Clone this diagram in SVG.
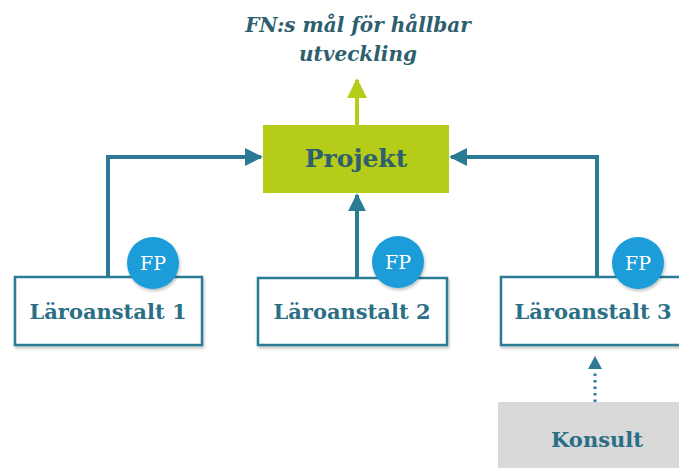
<svg xmlns="http://www.w3.org/2000/svg" width="679" height="468" viewBox="0 0 679 468">
<defs>
<style>
.box{fill:#fff;stroke:#2b7b94;stroke-width:2.5}
.lbl{font-family:"DejaVu Serif","Liberation Serif",serif;font-weight:bold;fill:#2b6f86;text-anchor:middle}
.fp{fill:#1a9cd8}
.fpt{font-family:"DejaVu Serif","Liberation Serif",serif;fill:#fff;font-size:19px;text-anchor:middle}
.conn{fill:none;stroke:#2b7b94;stroke-width:4}
</style>
<marker id="ah" viewBox="0 0 10 10" refX="9" refY="5" markerWidth="4.5" markerHeight="4.5" orient="auto" markerUnits="strokeWidth"><path d="M0,0L10,5L0,10z" fill="#2b7b94"/></marker>
<marker id="ahg" viewBox="0 0 10 10" refX="9" refY="5" markerWidth="5" markerHeight="5" orient="auto" markerUnits="strokeWidth"><path d="M0,0L10,5L0,10z" fill="#b5cc18"/></marker>
<filter id="sh" x="-30%" y="-30%" width="160%" height="160%"><feDropShadow dx="1" dy="2" stdDeviation="1.5" flood-opacity="0.25"/></filter>
</defs>
<g id="title">
<text x="358" y="32" font-family="DejaVu Serif, serif" font-style="italic" font-weight="bold" font-size="20" fill="#2e5f6e" text-anchor="middle">FN:s mål för hållbar</text>
<text x="358" y="61" font-family="DejaVu Serif, serif" font-style="italic" font-weight="bold" font-size="20" fill="#2e5f6e" text-anchor="middle">utveckling</text>
</g>
<g id="connectors">
<path class="conn" d="M108,277V157H261" marker-end="url(#ah)"/>
<path class="conn" d="M357,278V195" marker-end="url(#ah)"/>
<path class="conn" d="M597,277V157H451" marker-end="url(#ah)"/>
<path d="M357,125V80" fill="none" stroke="#b5cc18" stroke-width="4" marker-end="url(#ahg)"/>
<path d="M595,402V372" fill="none" stroke="#2b7b94" stroke-width="3" stroke-dasharray="2.5 4"/>
<path d="M595,356L588,369H602z" fill="#2b7b94"/>
</g>
<g id="projekt">
<rect x="263" y="125" width="186" height="68" fill="#b5cc18"/>
<text x="356" y="167" font-family="DejaVu Serif, serif" font-weight="bold" font-size="25" fill="#2e5f6e" text-anchor="middle">Projekt</text>
</g>
<g id="laroanstalt1">
<rect class="box" x="15" y="277" width="187" height="68" filter="url(#sh)"/>
<text class="lbl" x="108" y="319" font-size="21">Läroanstalt 1</text>
<circle class="fp" cx="153" cy="263" r="26" filter="url(#sh)"/>
<text class="fpt" x="153" y="270">FP</text>
</g>
<g id="laroanstalt2">
<rect class="box" x="258" y="278" width="189" height="67" filter="url(#sh)"/>
<text class="lbl" x="352" y="319" font-size="21">Läroanstalt 2</text>
<circle class="fp" cx="398" cy="262" r="26" filter="url(#sh)"/>
<text class="fpt" x="398" y="269">FP</text>
</g>
<g id="laroanstalt3">
<rect class="box" x="501" y="277" width="190" height="68" filter="url(#sh)"/>
<text class="lbl" x="593" y="319" font-size="21">Läroanstalt 3</text>
<circle class="fp" cx="638" cy="263" r="26" filter="url(#sh)"/>
<text class="fpt" x="638" y="270">FP</text>
</g>
<g id="konsult">
<rect x="498" y="402" width="190" height="70" fill="#d9d9d9"/>
<text class="lbl" x="597" y="447" font-size="21">Konsult</text>
</g>
</svg>
